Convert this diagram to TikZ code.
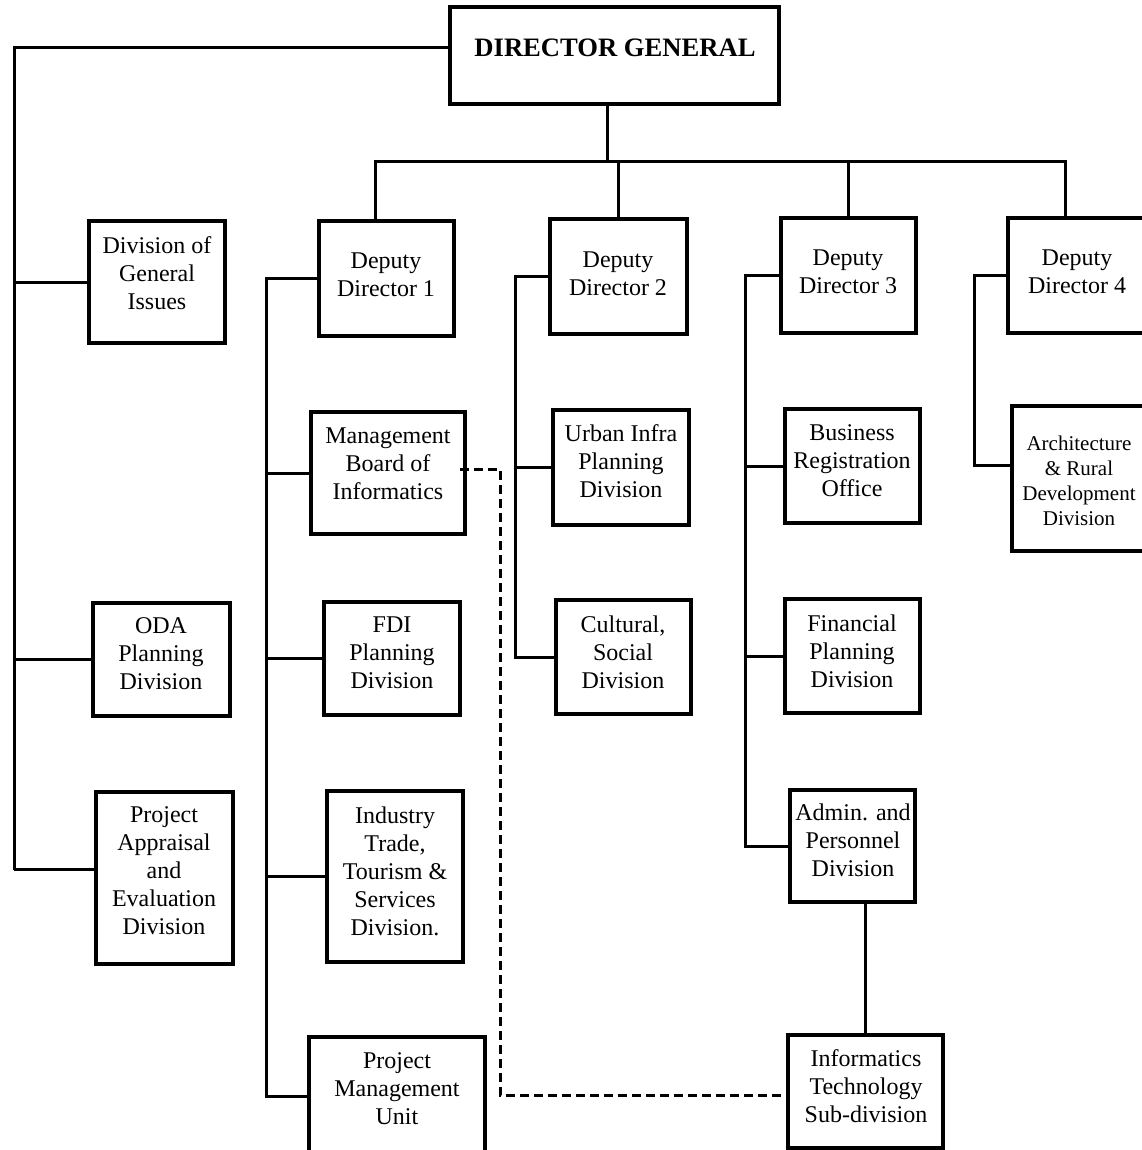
\documentclass[tikz,border=0pt]{standalone}
\usepackage{fontspec}
\setmainfont{Liberation Serif}
\usetikzlibrary{calc}
\tikzset{
  obx/.style={draw, line width=3.2pt, rectangle, inner sep=0pt, outer sep=0pt},
  txt/.style={align=center, inner sep=0pt, font=\fontsize{24}{28}\selectfont},
  conn/.style={line width=3pt},
  dsh/.style={line width=3pt, dash pattern=on 9pt off 5pt}
}
\newcommand{\obox}[5]{\node[obx, minimum width={(#4)-(#2)}, minimum height={(#5)-(#3)}] (#1) at ({((#2)+(#4))/2},{((#3)+(#5))/2}) {};}
\begin{document}
\begin{tikzpicture}[x=1pt, y=-1pt]
\useasboundingbox (0,0) rectangle (1141,1150);
% boxes
\obox{dg}{450}{7}{779}{104}
\obox{gi}{89}{221}{225}{343}
\obox{oda}{93}{603}{230}{716}
\obox{pae}{96}{792}{233}{964}
\obox{d1}{319}{221}{454}{336}
\obox{mb}{311}{412}{465}{534}
\obox{fdi}{324}{602}{460}{715}
\obox{itt}{327}{791}{463}{962}
\obox{pmu}{309}{1037}{485}{1156}
\obox{d2}{550}{219}{687}{334}
\obox{uip}{553}{410}{689}{525}
\obox{csd}{556}{600}{691}{714}
\obox{d3}{781}{218}{916}{333}
\obox{bro}{785}{409}{920}{523}
\obox{fpd}{785}{599}{920}{713}
\obox{adm}{790}{790}{915}{902}
\obox{its}{788}{1035}{943}{1148}
\obox{d4}{1008}{218}{1146}{333}
\obox{ard}{1012}{406}{1146}{551}
% texts
\node[txt, font=\fontsize{26.6}{30}\selectfont\bfseries] (dgt) at (615,48) {DIRECTOR GENERAL};
\node[txt] (git) at (157,273) {Division of\\General\\Issues};
\node[txt] (odat) at (161,654) {ODA\\Planning\\Division};
\node[txt] (paet) at (164,871) {Project\\Appraisal\\and\\Evaluation\\Division};
\node[txt] (d1t) at (386,275) {Deputy\\Director 1};
\node[txt] (mbt) at (388,464) {Management\\Board of\\Informatics};
\node[txt] (fdit) at (392,653) {FDI\\Planning\\Division};
\node[txt] (ittt) at (395,871) {Industry\\Trade,\\Tourism \&\\Services\\Division.};
\node[txt] (pmut) at (397,1089) {Project\\Management\\Unit};
\node[txt] (d2t) at (618,274) {Deputy\\Director 2};
\node[txt] (uipt) at (621,461) {Urban Infra\\Planning\\Division};
\node[txt] (csdt) at (623,652) {Cultural,\\Social\\Division};
\node[txt] (d3t) at (848,272) {Deputy\\Director 3};
\node[txt] (brot) at (852,461) {Business\\Registration\\Office};
\node[txt] (fpdt) at (852,651) {Financial\\Planning\\Division};
\node[txt] (admt) at (853,840) {Admin. and\\Personnel\\Division};
\node[txt] (itst) at (866,1086) {Informatics\\Technology\\Sub-division};
\node[txt] (d4t) at (1077,272) {Deputy\\Director 4};
\node[txt, font=\fontsize{21}{25}\selectfont] (ardt) at (1079,481) {Architecture\\\& Rural\\Development\\Division};
% spine coordinates
\coordinate (L0) at (14,48);
\coordinate (L1) at (14,870);
\coordinate (bus) at (0,162);
\coordinate (s1x) at (266,0);
\coordinate (s2x) at (515,0);
\coordinate (s3x) at (745,0);
\coordinate (s4x) at (974,0);
\coordinate (dk) at (500,1095);
% left branch
\draw[conn] (dg.west |- L0) -- (L0) -- (L1);
\draw[conn] (gi.west) -- (gi.west -| L0);
\draw[conn] (oda.west) -- (oda.west -| L0);
\coordinate (paew) at ($(pae.north west)!0.45!(pae.south west)$);
\draw[conn] (paew) -- (paew -| L0);
% top bus
\draw[conn] ([xshift=-7pt]dg.south) -- ([xshift=-7pt]dg.south |- bus);
\draw[conn] ([xshift=-11pt]d1.north) -- ([xshift=-11pt]d1.north |- bus) -- ([xshift=-12pt]d4.north |- bus) -- ([xshift=-12pt]d4.north);
\draw[conn] (d2.north) -- (d2.north |- bus);
\draw[conn] (d3.north) -- (d3.north |- bus);
% deputy 1
\draw[conn] (d1.west) -- (d1.west -| s1x) -- (s1x |- pmu.west) -- (pmu.west);
\draw[conn] (mb.west) -- (mb.west -| s1x);
\draw[conn] (fdi.west) -- (fdi.west -| s1x);
\draw[conn] (itt.west) -- (itt.west -| s1x);
% deputy 2
\draw[conn] (d2.west) -- (d2.west -| s2x) -- (s2x |- csd.west) -- (csd.west);
\draw[conn] (uip.west) -- (uip.west -| s2x);
% deputy 3
\draw[conn] (d3.west) -- (d3.west -| s3x) -- (s3x |- adm.west) -- (adm.west);
\draw[conn] (bro.west) -- (bro.west -| s3x);
\draw[conn] (fpd.west) -- (fpd.west -| s3x);
\draw[conn] (its.north) -- (its.north |- adm.south);
% deputy 4
\coordinate (ardw) at ($(ard.north west)!0.41!(ard.south west)$);
\draw[conn] (d4.west) -- (d4.west -| s4x) -- (s4x |- ardw) -- (ardw);
% dashed link
\draw[dsh] ([xshift=-5pt,yshift=4pt]mb.east) -| (dk) -- (dk -| its.west);
\end{tikzpicture}
\end{document}
